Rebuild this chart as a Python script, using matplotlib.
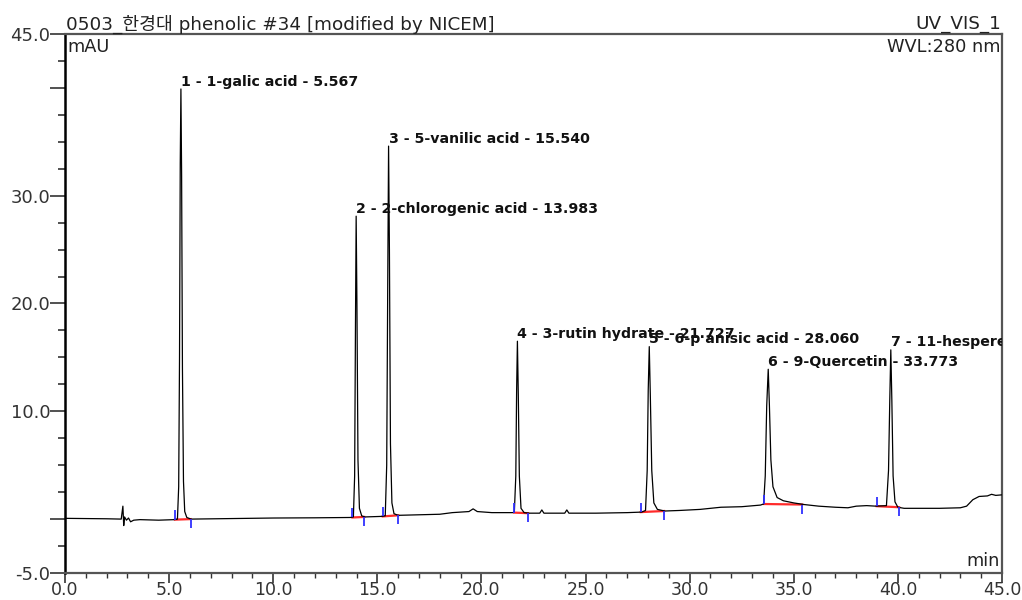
import matplotlib
matplotlib.use("Agg")
import matplotlib.pyplot as plt
from matplotlib.ticker import FixedLocator, MultipleLocator, FixedFormatter

plt.rcParams['font.family'] = ['DejaVu Sans', 'Noto Sans CJK KR']

# ---- data ----
trace_t = [0.0, 1.0, 2.0, 2.7, 2.78, 2.82, 2.86, 2.95, 3.05, 3.15, 3.3, 3.6, 4.5, 5.25,
           5.40, 5.46, 5.50, 5.535, 5.567, 5.60, 5.64, 5.69, 5.75, 5.85, 6.05,
           8.0, 10.0, 12.0, 13.7,
           13.85, 13.91, 13.95, 13.983, 14.02, 14.07, 14.14, 14.25, 14.4,
           15.2,
           15.38, 15.45, 15.50, 15.540, 15.58, 15.63, 15.70, 15.80, 16.0,
           17.0, 18.0, 18.6, 19.0, 19.4, 19.6, 19.8, 20.5, 21.5,
           21.58, 21.65, 21.69, 21.727, 21.77, 21.82, 21.90, 22.05, 22.3,
           22.8, 22.9, 23.0, 24.0, 24.1, 24.2, 25.5, 27.0, 27.7,
           27.88, 27.96, 28.01, 28.060, 28.11, 28.18, 28.28, 28.45, 28.8,
           29.5, 30.5, 31.0, 31.5, 32.5, 33.4,
           33.55, 33.63, 33.70, 33.773, 33.83, 33.90, 34.0, 34.2, 34.5, 35.0, 35.5,
           36.2, 37.0, 37.6, 38.0, 38.5, 38.95,
           39.45, 39.55, 39.61, 39.66, 39.71, 39.77, 39.86, 40.0, 40.3,
           41.0, 42.0, 43.0, 43.3, 43.6, 43.9, 44.3, 44.5, 44.7, 45.0]
trace_v = [0.07, 0.05, 0.03, 0.0, 1.2, -0.6, 0.2, -0.1, 0.1, -0.25, -0.1, -0.05, -0.1, -0.05,
           0.0, 3.0, 15.0, 33.0, 39.9, 32.0, 14.0, 3.5, 0.7, 0.15, 0.0,
           0.05, 0.1, 0.12, 0.15,
           0.2, 4.0, 18.0, 28.1, 20.0, 5.5, 1.0, 0.3, 0.2,
           0.25,
           0.3, 5.0, 22.0, 34.6, 25.0, 7.0, 1.5, 0.5, 0.35,
           0.4, 0.45, 0.6, 0.65, 0.7, 0.95, 0.7, 0.6, 0.6,
           0.65, 4.0, 12.0, 16.5, 11.5, 4.0, 1.0, 0.6, 0.55,
           0.55, 0.85, 0.55, 0.55, 0.85, 0.55, 0.55, 0.6, 0.65,
           0.8, 4.5, 12.0, 16.0, 11.5, 4.5, 1.5, 0.9, 0.75,
           0.8, 0.9, 1.0, 1.1, 1.15, 1.3,
           1.4, 4.0, 10.5, 13.9, 10.5, 5.5, 3.0, 2.0, 1.7, 1.5, 1.35,
           1.2, 1.1, 1.05, 1.2, 1.25, 1.2,
           1.25, 4.5, 11.0, 15.7, 11.0, 4.0, 1.6, 1.1, 1.0,
           1.0, 1.0, 1.05, 1.2, 1.8, 2.1, 2.15, 2.3, 2.2, 2.25]

peak_rt = [5.567, 13.983, 15.540, 21.727, 28.060, 33.773, 39.66]
peak_h = [39.9, 28.1, 34.6, 16.5, 16.0, 13.9, 15.7]
peak_labels = ["1 - 1-galic acid - 5.567",
               "2 - 2-chlorogenic acid - 13.983",
               "3 - 5-vanilic acid - 15.540",
               "4 - 3-rutin hydrate - 21.727",
               "5 - 6-p anisic acid - 28.060",
               "6 - 9-Quercetin - 33.773",
               "7 - 11-hesperetin - 39.660"]
peak_start = [5.28, 13.80, 15.26, 21.57, 27.65, 33.57, 38.98]
peak_end = [6.04, 14.37, 16.00, 22.24, 28.77, 35.40, 40.06]
base_start = [-0.05, 0.15, 0.25, 0.60, 0.65, 1.40, 1.20]
base_end = [0.00, 0.20, 0.35, 0.55, 0.75, 1.35, 1.10]

title_left = "0503_한경대 phenolic #34 [modified by NICEM]"
title_right = "UV_VIS_1"
y_unit = "mAU"
wavelength = "WVL:280 nm"
x_unit = "min"
y_major = [-5, 0, 10, 20, 30, 40, 45]
y_major_labels = ["-5.0", "", "10.0", "20.0", "30.0", "", "45.0"]
x_major = [0, 5, 10, 15, 20, 25, 30, 35, 40, 45]
x_major_labels = ["0.0", "5.0", "10.0", "15.0", "20.0", "25.0", "30.0", "35.0", "40.0", "45.0"]

# ---- figure ----
fig = plt.figure(figsize=(10.22, 6.0), dpi=100)
ax = fig.add_axes([65/1022, 1 - 573/600, (1002 - 65)/1022, (573 - 34)/600])
ax.set_xlim(0, 45)
ax.set_ylim(-5, 45)

ax.plot(trace_t, trace_v, color='black', lw=0.9, zorder=3)

for s, e, bs, be in zip(peak_start, peak_end, base_start, base_end):
    ax.plot([s, e], [bs, be], color='#ff2a2a', lw=1.6, zorder=2)
    ax.vlines(s, bs, bs + 0.85, color='#3030ff', lw=1.3, zorder=4)
    ax.vlines(e, be - 0.85, be, color='#3030ff', lw=1.3, zorder=4)

for rt, h, lab in zip(peak_rt, peak_h, peak_labels):
    ax.annotate(lab, xy=(rt, h), xytext=(0, 2.5), textcoords='offset points',
                ha='left', va='baseline', fontsize=10.2, fontweight='bold',
                color='#111111', clip_on=True, annotation_clip=True, zorder=5)

# ticks
ax.yaxis.set_major_locator(FixedLocator(y_major))
ax.yaxis.set_major_formatter(FixedFormatter(y_major_labels))
ax.yaxis.set_minor_locator(MultipleLocator(2.5))
ax.xaxis.set_major_locator(FixedLocator(x_major))
ax.xaxis.set_major_formatter(FixedFormatter(x_major_labels))
ax.xaxis.set_minor_locator(MultipleLocator(1.0))
ax.tick_params(axis='y', which='major', direction='out', length=10.5, width=1.2,
               labelsize=13, pad=0, colors='#333333')
ax.tick_params(axis='y', which='minor', direction='out', length=5, width=1.2, colors='#333333')
ax.tick_params(axis='x', which='major', direction='out', length=7, width=1.2,
               labelsize=12.5, pad=-1.5, colors='#333333')
ax.tick_params(axis='x', which='minor', direction='out', length=3.6, width=1.0, colors='#333333')

for side in ['top', 'right', 'bottom']:
    ax.spines[side].set_color('#555555')
    ax.spines[side].set_linewidth(1.6)
ax.spines['left'].set_color('black')
ax.spines['left'].set_linewidth(1.8)

# texts
fig.text(66/1022, 1 - 24/600, title_left, ha='left', va='center', fontsize=13.2, color='#222222')
fig.text(1001/1022, 1 - 24/600, title_right, ha='right', va='center', fontsize=13.2, color='#222222')
ax.text(0.003, 0.993, y_unit, transform=ax.transAxes, ha='left', va='top', fontsize=12.8, color='#222222')
ax.text(0.998, 0.993, wavelength, transform=ax.transAxes, ha='right', va='top', fontsize=12.8, color='#222222')
ax.text(0.998, 0.005, x_unit, transform=ax.transAxes, ha='right', va='bottom', fontsize=12.8, color='#222222')

fig.savefig("out.png", dpi=100)
